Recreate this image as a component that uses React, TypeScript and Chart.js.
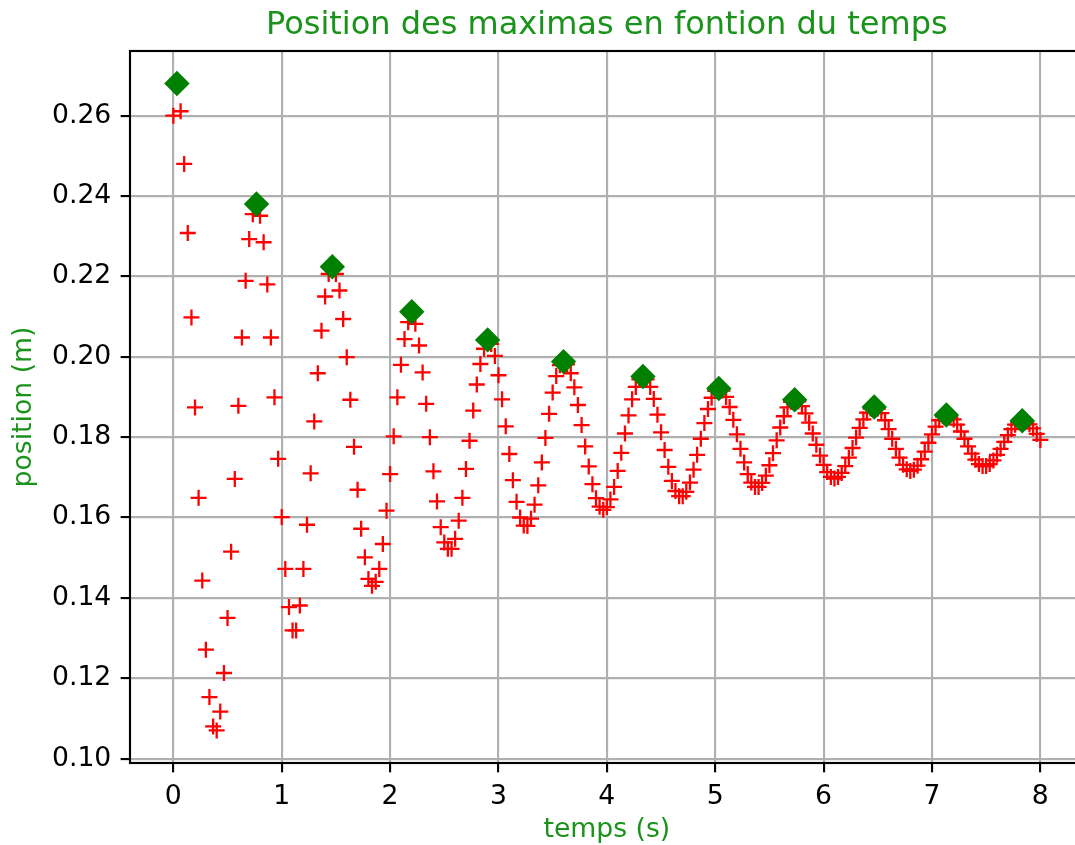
import { useEffect, useRef } from "react";
import { Chart, registerables } from "chart.js";

Chart.register(...registerables);

// Time of each frame (s), 30 images per second
const temps = [
  0, 0.033, 0.067, 0.1, 0.133, 0.167, 0.2, 0.233, 0.267, 0.3, 0.333, 0.367, 0.4, 0.433, 0.467, 0.5, 0.533, 0.567, 0.6, 0.633, 0.667, 0.7, 0.733, 0.767, 0.8, 0.833, 0.867, 0.9, 0.933, 0.967,
  1, 1.033, 1.067, 1.1, 1.133, 1.167, 1.2, 1.233, 1.267, 1.3, 1.333, 1.367, 1.4, 1.433, 1.467, 1.5, 1.533, 1.567, 1.6, 1.633, 1.667, 1.7, 1.733, 1.767, 1.8, 1.833, 1.867, 1.9, 1.933, 1.967,
  2, 2.033, 2.067, 2.1, 2.133, 2.167, 2.2, 2.233, 2.267, 2.3, 2.333, 2.367, 2.4, 2.433, 2.467, 2.5, 2.533, 2.567, 2.6, 2.633, 2.667, 2.7, 2.733, 2.767, 2.8, 2.833, 2.867, 2.9, 2.933, 2.967,
  3, 3.033, 3.067, 3.1, 3.133, 3.167, 3.2, 3.233, 3.267, 3.3, 3.333, 3.367, 3.4, 3.433, 3.467, 3.5, 3.533, 3.567, 3.6, 3.633, 3.667, 3.7, 3.733, 3.767, 3.8, 3.833, 3.867, 3.9, 3.933, 3.967,
  4, 4.033, 4.067, 4.1, 4.133, 4.167, 4.2, 4.233, 4.267, 4.3, 4.333, 4.367, 4.4, 4.433, 4.467, 4.5, 4.533, 4.567, 4.6, 4.633, 4.667, 4.7, 4.733, 4.767, 4.8, 4.833, 4.867, 4.9, 4.933, 4.967,
  5, 5.033, 5.067, 5.1, 5.133, 5.167, 5.2, 5.233, 5.267, 5.3, 5.333, 5.367, 5.4, 5.433, 5.467, 5.5, 5.533, 5.567, 5.6, 5.633, 5.667, 5.7, 5.733, 5.767, 5.8, 5.833, 5.867, 5.9, 5.933, 5.967,
  6, 6.033, 6.067, 6.1, 6.133, 6.167, 6.2, 6.233, 6.267, 6.3, 6.333, 6.367, 6.4, 6.433, 6.467, 6.5, 6.533, 6.567, 6.6, 6.633, 6.667, 6.7, 6.733, 6.767, 6.8, 6.833, 6.867, 6.9, 6.933, 6.967,
  7, 7.033, 7.067, 7.1, 7.133, 7.167, 7.2, 7.233, 7.267, 7.3, 7.333, 7.367, 7.4, 7.433, 7.467, 7.5, 7.533, 7.567, 7.6, 7.633, 7.667, 7.7, 7.733, 7.767, 7.8, 7.833, 7.867, 7.9, 7.933, 7.967,
  8,
];

// Measured position (m) for each frame
const positions = [
  0.2600, 0.2680, 0.2611, 0.2480, 0.2308, 0.2098, 0.1874, 0.1649, 0.1443, 0.1271, 0.1153, 0.1080, 0.1070, 0.1117, 0.1213, 0.1350, 0.1515, 0.1696, 0.1878, 0.2048, 0.2189, 0.2293, 0.2355, 0.2380, 0.2351, 0.2285, 0.2180, 0.2048, 0.1899, 0.1746,
  0.1601, 0.1472, 0.1377, 0.1319, 0.1319, 0.1381, 0.1472, 0.1582, 0.1710, 0.1839, 0.1959, 0.2065, 0.2150, 0.2206, 0.2224, 0.2206, 0.2165, 0.2094, 0.1999, 0.1893, 0.1776, 0.1669, 0.1572, 0.1501, 0.1447, 0.1430, 0.1440, 0.1472, 0.1534, 0.1617,
  0.1708, 0.1802, 0.1899, 0.1980, 0.2044, 0.2086, 0.2112, 0.2082, 0.2028, 0.1961, 0.1883, 0.1800, 0.1715, 0.1640, 0.1576, 0.1538, 0.1522, 0.1522, 0.1547, 0.1592, 0.1649, 0.1721, 0.1791, 0.1866, 0.1931, 0.1982, 0.2020, 0.2042, 0.2032, 0.2002,
  0.1954, 0.1894, 0.1827, 0.1758, 0.1693, 0.1639, 0.1600, 0.1580, 0.1579, 0.1597, 0.1632, 0.1680, 0.1737, 0.1798, 0.1858, 0.1911, 0.1952, 0.1979, 0.1988, 0.1981, 0.1959, 0.1924, 0.1880, 0.1830, 0.1777, 0.1727, 0.1683, 0.1648, 0.1627, 0.1619,
  0.1626, 0.1645, 0.1676, 0.1716, 0.1761, 0.1809, 0.1854, 0.1894, 0.1925, 0.1944, 0.1951, 0.1944, 0.1925, 0.1895, 0.1856, 0.1812, 0.1768, 0.1726, 0.1691, 0.1666, 0.1653, 0.1653, 0.1664, 0.1687, 0.1719, 0.1756, 0.1796, 0.1835, 0.1870, 0.1898,
  0.1915, 0.1921, 0.1916, 0.1900, 0.1875, 0.1843, 0.1807, 0.1771, 0.1737, 0.1708, 0.1687, 0.1676, 0.1676, 0.1686, 0.1704, 0.1730, 0.1760, 0.1792, 0.1824, 0.1852, 0.1874, 0.1888, 0.1893, 0.1889, 0.1877, 0.1859, 0.1836, 0.1809, 0.1781, 0.1754,
  0.1731, 0.1713, 0.1701, 0.1697, 0.1701, 0.1711, 0.1728, 0.1749, 0.1773, 0.1799, 0.1823, 0.1844, 0.1861, 0.1871, 0.1875, 0.1871, 0.1860, 0.1842, 0.1820, 0.1796, 0.1771, 0.1749, 0.1731, 0.1720, 0.1716, 0.1719, 0.1729, 0.1745, 0.1764, 0.1786,
  0.1807, 0.1826, 0.1842, 0.1852, 0.1855, 0.1852, 0.1844, 0.1831, 0.1814, 0.1796, 0.1777, 0.1759, 0.1744, 0.1733, 0.1728, 0.1728, 0.1733, 0.1742, 0.1756, 0.1771, 0.1788, 0.1805, 0.1820, 0.1831, 0.1839, 0.1841, 0.1839, 0.1832, 0.1822, 0.1808,
  0.1793,
];

// Local maxima of the oscillation
const tempsMax = [0.033, 0.767, 1.467, 2.2, 2.9, 3.6, 4.333, 5.033, 5.733, 6.467, 7.133, 7.833];
const positionsMax = [0.2680, 0.2380, 0.2224, 0.2112, 0.2042, 0.1988, 0.1951, 0.1921, 0.1893, 0.1875, 0.1855, 0.1841];

const xTickValues = [0, 1, 2, 3, 4, 5, 6, 7, 8];
const yTickValues = [0.10, 0.12, 0.14, 0.16, 0.18, 0.20, 0.22, 0.24, 0.26];

const CANVAS_W = 1100;
const CANVAS_H = 848;
const FONT = "'DejaVu Sans', sans-serif";
const PT = 192 / 72; // one typographic point in pixels
const LABEL_GREEN = "#1a931a";

export default function App() {
  const canvasRef = useRef<HTMLCanvasElement | null>(null);

  useEffect(() => {
    const canvas = canvasRef.current;
    if (!canvas) return;

    // Axes frame (all four spines) drawn above the markers
    const frame = {
      id: "frame",
      afterDatasetsDraw(chart: Chart) {
        const { ctx, chartArea: a } = chart;
        ctx.save();
        ctx.strokeStyle = "#000";
        ctx.lineWidth = 0.8 * PT;
        ctx.strokeRect(a.left, a.top, a.right - a.left, a.bottom - a.top);
        ctx.restore();
      },
    };

    const tickFont = { family: FONT, size: 10 * PT };
    const gridStyle = {
      color: "#b0b0b0",
      lineWidth: 0.8 * PT,
      tickColor: "#000",
      tickWidth: 0.8 * PT,
      tickLength: 3.5 * PT,
    };

    const chart = new Chart(canvas, {
      type: "scatter",
      data: {
        datasets: [
          {
            label: "maximas",
            data: tempsMax.map((t, i) => ({ x: t, y: positionsMax[i] })),
            pointStyle: "rectRot",
            pointRadius: 11.3,
            pointHoverRadius: 11.3,
            backgroundColor: "#008000",
            borderColor: "#008000",
            borderWidth: 2,
          },
          {
            label: "position",
            data: temps.map((t, i) => ({ x: t, y: positions[i] })),
            pointStyle: "cross",
            pointRadius: 8,
            pointHoverRadius: 8,
            borderColor: "#ff0000",
            backgroundColor: "#ff0000",
            borderWidth: 2.3,
          },
        ],
      },
      options: {
        responsive: false,
        animation: false,
        events: [],
        layout: { padding: { left: 0, top: 0, bottom: 0, right: CANVAS_W - 1083.7 } },
        plugins: {
          legend: { display: false },
          tooltip: { enabled: false },
          title: {
            display: true,
            fullSize: false,
            text: "Position des maximas en fontion du temps",
            color: LABEL_GREEN,
            font: { family: FONT, size: 12 * PT, weight: "normal" },
            padding: { top: 6.3, bottom: 6.3 },
          },
        },
        scales: {
          x: {
            type: "linear",
            min: -0.4,
            max: 8.4,
            afterBuildTicks: (scale: any) => {
              scale.ticks = xTickValues.map((v) => ({ value: v }));
            },
            afterFit: (scale: any) => {
              scale.height = CANVAS_H - 763;
            },
            ticks: {
              font: tickFont,
              color: "#000",
              padding: 9,
              maxRotation: 0,
              callback: (v: any) => String(v),
            },
            grid: gridStyle,
            border: { display: false },
            title: {
              display: true,
              text: "temps (s)",
              color: LABEL_GREEN,
              font: { family: FONT, size: 10 * PT },
              padding: { top: 0, bottom: 1.5 },
            },
          },
          y: {
            type: "linear",
            min: 0.0989,
            max: 0.2761,
            afterBuildTicks: (scale: any) => {
              scale.ticks = yTickValues.map((v) => ({ value: v }));
            },
            afterFit: (scale: any) => {
              scale.width = 130;
            },
            ticks: {
              font: tickFont,
              color: "#000",
              padding: 3.5 * PT,
              callback: (v: any) => Number(v).toFixed(2),
            },
            grid: gridStyle,
            border: { display: false },
            title: {
              display: true,
              text: "position (m)",
              color: LABEL_GREEN,
              font: { family: FONT, size: 10 * PT },
              padding: { top: 8.5, bottom: 0 },
            },
          },
        },
      },
      plugins: [frame],
    } as any);

    return () => chart.destroy();
  }, []);

  return (
    <div
      style={{
        position: "fixed",
        left: 0,
        top: 0,
        width: 1075,
        height: 845,
        overflow: "hidden",
        background: "#fff",
      }}
    >
      <canvas
        ref={canvasRef}
        width={CANVAS_W}
        height={CANVAS_H}
        style={{ display: "block", width: CANVAS_W, height: CANVAS_H }}
      />
    </div>
  );
}
